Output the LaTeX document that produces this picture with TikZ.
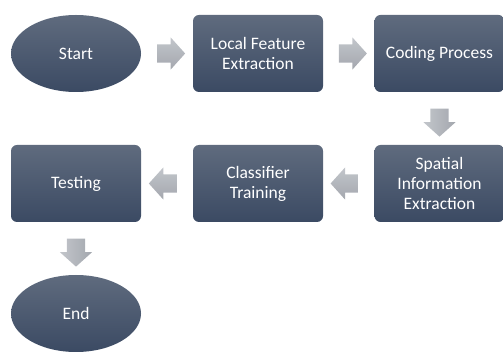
\documentclass[tikz,border=0pt]{standalone}
\usepackage{fontspec}
\setmainfont{Carlito}
\usetikzlibrary{shapes.arrows,shapes.geometric,calc}
\definecolor{boxtop}{HTML}{5F6B7E}
\definecolor{boxbot}{HTML}{3B4A63}
\definecolor{arrtop}{HTML}{C3C6CB}
\definecolor{arrbot}{HTML}{A3A7AE}
\begin{document}
\begin{tikzpicture}[x=1pt,y=-1pt,
  every node/.style={font=\fontsize{17.5}{20}\selectfont, text=white, align=center},
  stepbox/.style={rectangle, rounded corners=6pt, minimum width=130pt, minimum height=77pt, top color=boxtop, bottom color=boxbot, draw=none, inner sep=2pt},
  termnode/.style={ellipse, minimum width=130pt, minimum height=77pt, top color=boxtop, bottom color=boxbot, draw=none, inner sep=0pt},
  blockarrow/.style={single arrow, draw=none, minimum height=28pt, minimum width=32pt, single arrow head extend=7pt, single arrow tip angle=96, left color=arrtop, right color=arrbot},
  harrow/.style={blockarrow, inner xsep=0pt, inner ysep=9pt, shading angle=0},
  varrow/.style={blockarrow, inner xsep=9pt, inner ysep=0pt, shading angle=90},
]
\useasboundingbox (0,0) rectangle (503,352);
\node[termnode] (start) at (76,53.5) {Start};
\node[stepbox] (lfe) at (258,53.5) {Local Feature\\Extraction};
\node[stepbox] (cp) at (439.5,53.5) {Coding Process};
\node[stepbox] (sie) at (439.5,183.5) {Spatial\\Information\\Extraction};
\node[stepbox] (ct) at (258,183.5) {Classifier\\Training};
\node[stepbox] (test) at (76,183.5) {Testing};
\node[termnode] (end) at (76,313.5) {End};

\node[harrow, shape border rotate=0] (a1) at ($(start.east)!0.5!(lfe.west)$) {};
\node[harrow, shape border rotate=0] (a2) at ($(lfe.east)!0.5!(cp.west)$) {};
\node[varrow, shape border rotate=270] (a3) at ($(cp.south)!0.5!(sie.north)$) {};
\node[harrow, shape border rotate=180] (a4) at ($(sie.west)!0.5!(ct.east)$) {};
\node[harrow, shape border rotate=180] (a5) at ($(ct.west)!0.5!(test.east)$) {};
\node[varrow, shape border rotate=270] (a6) at ($(test.south)!0.5!(end.north)$) {};
\end{tikzpicture}
\end{document}
